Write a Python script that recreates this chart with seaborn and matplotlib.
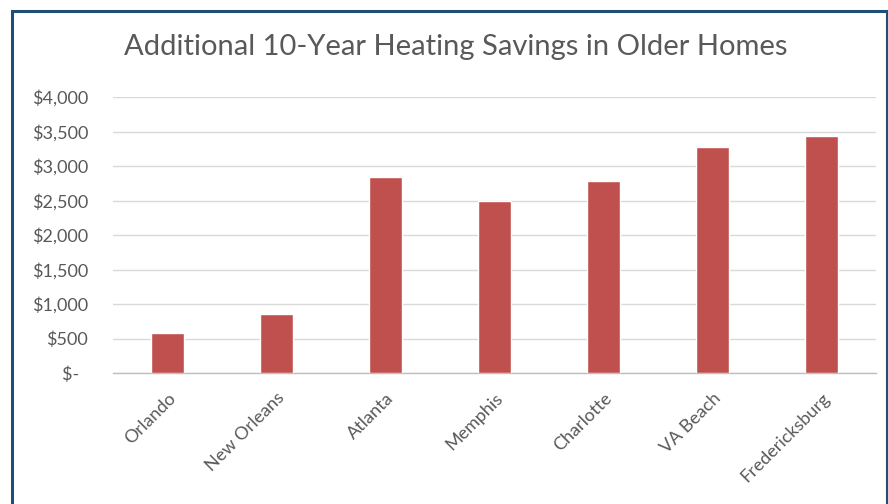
import matplotlib.pyplot as plt
import matplotlib.patches as patches
import seaborn as sns
import pandas as pd

cities = ["Orlando", "New Orleans", "Atlanta", "Memphis", "Charlotte",
          "VA Beach", "Fredericksburg"]
savings = [575, 850, 2840, 2500, 2780, 3275, 3440]
y_ticks = [0, 500, 1000, 1500, 2000, 2500, 3000, 3500, 4000]
y_labels = ["$-  ", "$500", "$1,000", "$1,500", "$2,000", "$2,500",
            "$3,000", "$3,500", "$4,000"]

df = pd.DataFrame({"city": cities, "savings": savings})

sns.set_style("white")
plt.rcParams["font.family"] = ["Lato", "DejaVu Sans"]

fig = plt.figure(figsize=(8.88, 5.04), dpi=100)
ax = fig.add_axes([0.1273, 0.2599, 0.8592, 0.5476])

sns.barplot(data=df, x="city", y="savings", color="#C0504D",
            saturation=1, width=0.31, ax=ax, zorder=3)

ax.set_ylim(0, 4000)
ax.set_xlim(-0.5, len(cities) - 0.5)
ax.set_yticks(y_ticks)
ax.set_yticklabels(y_labels)
ax.yaxis.grid(True, color="#D9D9D9", linewidth=1.0, zorder=0)
ax.set_axisbelow(True)
for side in ["top", "right", "left"]:
    ax.spines[side].set_visible(False)
ax.spines["bottom"].set_color("#BFBFBF")
ax.spines["bottom"].set_linewidth(1.0)

ax.tick_params(axis="y", length=0, pad=18, labelsize=13, labelcolor="#595959")
ax.tick_params(axis="x", length=0, pad=12, labelsize=13, labelcolor="#595959")
plt.setp(ax.get_xticklabels(), rotation=45, ha="right", va="top",
         rotation_mode="anchor")
ax.set_xlabel("")
ax.set_ylabel("")

fig.text(0.513, 0.907, "Additional 10-Year Heating Savings in Older Homes",
         ha="center", va="center", fontsize=21, color="#595959")

# dark blue frame around the whole picture, bottom edge runs off the image
border = patches.Rectangle((0.0140, -0.05), 0.9845, 1.028,
                           transform=fig.transFigure, fill=False,
                           edgecolor="#1F4E79", linewidth=2.2, clip_on=False)
fig.patches.append(border)

fig.savefig("out.png", dpi=100)
